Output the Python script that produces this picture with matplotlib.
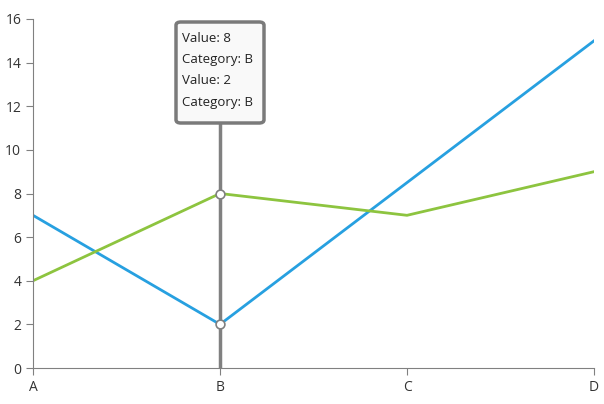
import matplotlib.pyplot as plt
from matplotlib.patches import FancyBboxPatch

categories = ["A", "B", "C", "D"]
blue_values = [7, 2, 8.5, 15]
green_values = [4, 8, 7, 9]
hover_index = 1

plt.rcParams["font.family"] = ["Open Sans", "DejaVu Sans"]

fig = plt.figure(figsize=(6.04, 4.04), dpi=100)
ax = fig.add_axes([33 / 604, 36 / 404, 561 / 604, 349 / 404])
x = range(len(categories))

ax.plot(x, blue_values, color="#27a0e0", lw=2)
ax.plot(x, green_values, color="#8dc43f", lw=2)

ax.axvline(hover_index, ymax=11.3 / 16, color="#808080", lw=2.5, zorder=3)
ax.scatter([hover_index] * 2, [green_values[hover_index], blue_values[hover_index]],
           s=40, facecolor="white", edgecolor="#808080", lw=1.2, zorder=4)

ax.set_xlim(0, 3)
ax.set_ylim(0, 16)
ax.set_xticks(list(x))
ax.set_xticklabels(categories)
ax.set_yticks(range(0, 17, 2))
for side in ["top", "right"]:
    ax.spines[side].set_visible(False)
for side in ["left", "bottom"]:
    ax.spines[side].set_color("#808080")
ax.tick_params(colors="#808080", labelcolor="#333333", labelsize=10, length=5)

# tooltip
box = FancyBboxPatch((176 / 604, 1 - 123 / 404), 88 / 604, 101 / 404,
                     boxstyle="round,pad=0,rounding_size=0.008",
                     transform=fig.transFigure, facecolor="#f9f9f9",
                     edgecolor="#7a7a7a", lw=2.5, zorder=5)
fig.patches.append(box)
lines = [f"Value: {green_values[hover_index]}", f"Category: {categories[hover_index]}",
         f"Value: {blue_values[hover_index]}", f"Category: {categories[hover_index]}"]
for i, t in enumerate(lines):
    fig.text(182 / 604, 1 - (38 + i * 21.5) / 404, t, fontsize=9.5,
             color="#222222", va="center", zorder=6)

fig.savefig("out.png")
